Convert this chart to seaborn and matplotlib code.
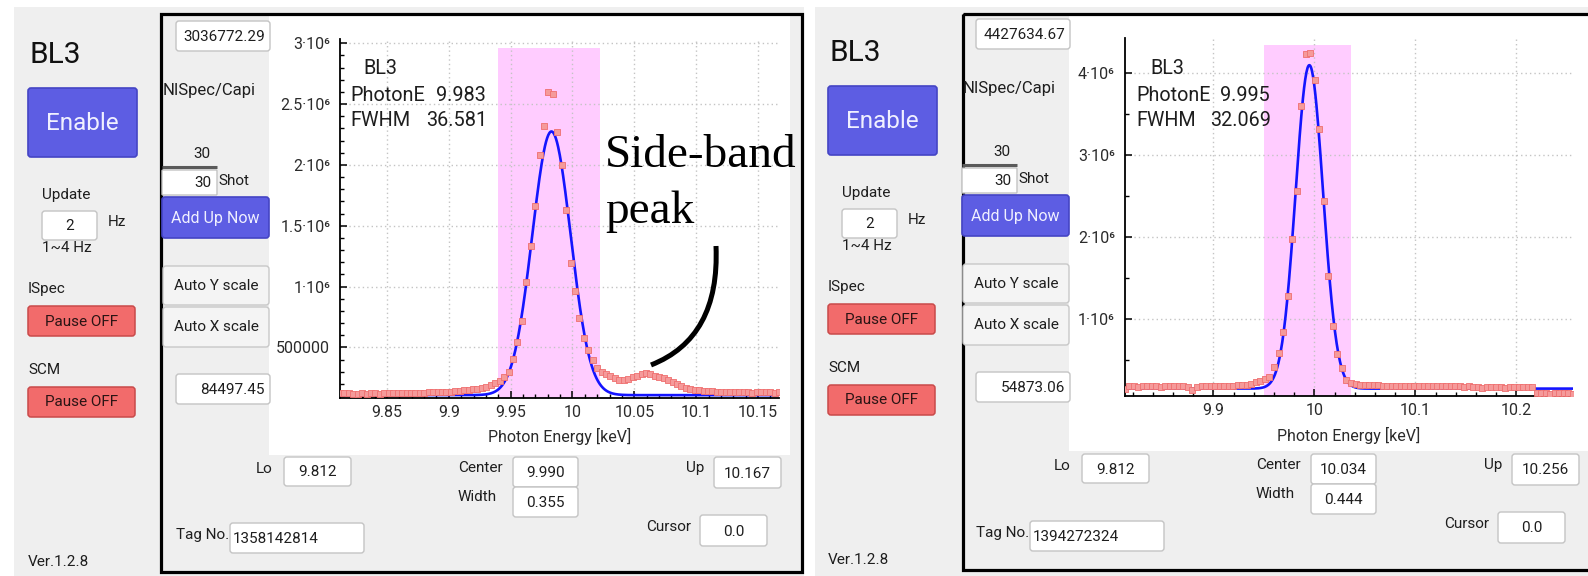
import numpy as np
import matplotlib
matplotlib.use("Agg")
import matplotlib.pyplot as plt
import seaborn as sns
from matplotlib.patches import FancyBboxPatch, Rectangle, PathPatch
from matplotlib.path import Path
from matplotlib.ticker import MultipleLocator, FuncFormatter

# ---------------- spectrum data (counts / 1000) ----------------
N_BINS = 100

# left panel
LO_1, UP_1 = 9.812, 10.167
CENTER_1, WIDTH_1 = 9.990, 0.355
Y_LO_1, Y_HI_1 = 84497.45, 3036772.29
PHOTON_E_1, FWHM_1 = 9.983, 36.581          # keV, eV
FIT_PEAK_1, FIT_BASE_1 = 2.275e6, 1.08e5
GATE_1 = (9.940, 10.022)
GATE_TOP_1 = 2.965e6
TAG_1 = "1358142814"
SPEC_1_K = [
    128, 122, 125, 119, 121, 124, 118, 122, 125, 121,
    123, 126, 122, 124, 127, 125, 128, 126, 129, 128,
    130, 131, 132, 133, 135, 137, 140, 143, 147, 151,
    155, 161, 168, 178, 190, 205, 225,
    254, 300, 404, 541, 719, 1034, 1330, 1664, 2080, 2321,
    2603, 2581, 2272, 1998, 1631,
    1198, 965, 740, 580, 475, 395, 335, 300, 285, 262,
    245, 236, 235, 242, 256, 268, 278, 287, 282, 265,
    256, 250, 232, 212, 196, 182, 170, 160, 152, 147,
    143, 140, 138, 137, 135, 134, 133,
    131, 133, 130, 132, 129, 131, 133, 130, 131, 129, 130,
]

# right panel
LO_2, UP_2 = 9.812, 10.256
CENTER_2, WIDTH_2 = 10.034, 0.444
Y_LO_2, Y_HI_2 = 54873.06, 4427634.67
PHOTON_E_2, FWHM_2 = 9.995, 32.069
FIT_PEAK_2, FIT_BASE_2 = 4.10e6, 1.50e5
GATE_2 = (9.950, 10.036)
GATE_TOP_2 = 4.343e6
TAG_2 = "1394272324"
SPEC_2_K = [
    140, 176, 181, 174, 178, 183, 177, 180, 175, 182,
    179, 176, 181, 178, 174, 138, 172, 179, 183, 177,
    180, 184, 181, 185, 186, 188, 192, 200, 212, 226,
    245, 265,
    294, 416, 580, 845, 1282, 1980, 2560, 3600, 4233, 4253,
    3918, 3322, 2437, 1527, 918, 567, 396, 253,
    222, 205, 197, 194, 192, 190, 188, 186, 185, 184,
    183, 182, 183, 181, 182, 180, 181, 179, 180, 178,
    179, 177, 178, 176, 177, 175, 176, 174, 172, 160,
    174, 175, 173, 171, 163, 172, 174, 171, 169, 172, 170,
    95, 92, 94, 90, 93, 91, 94, 92, 90,
]

W, H = 1588, 576

sns.set_style("ticks")
plt.rcParams["font.family"] = ["Roboto", "DejaVu Sans"]

fig = plt.figure(figsize=(W / 100, H / 100), dpi=100, facecolor="white")

# background layer in pixel units (origin top-left)
ui = fig.add_axes([0, 0, 1, 1], zorder=0)
ui.set_xlim(0, W)
ui.set_ylim(H, 0)
ui.axis("off")

TXT = "#1e1e1e"


def rbox(x0, y0, x1, y1, fc="white", ec="#c4c4c4", lw=1.0, r=3):
    ui.add_patch(FancyBboxPatch((x0, y0), x1 - x0, y1 - y0,
                                boxstyle=f"round,pad=0,rounding_size={r}",
                                fc=fc, ec=ec, lw=lw))


def txt(x, y, s, size=11, ha="left", color=TXT, **kw):
    ui.text(x, y, s, fontsize=size, ha=ha, va="center", color=color, **kw)


def field(x0, y0, x1, y1, s, align="center"):
    rbox(x0, y0, x1, y1)
    ym = (y0 + y1) / 2 + 1
    if align == "center":
        txt((x0 + x1) / 2, ym, s, ha="center")
    elif align == "right":
        txt(x1 - 5, ym, s, ha="right")
    else:
        txt(x0 + 3, ym, s, ha="left")


# grey window backgrounds
ui.add_patch(Rectangle((14, 7), 790, H - 7, fc="#efefef", ec="none"))
ui.add_patch(Rectangle((815, 7), W - 815, H - 7, fc="#efefef", ec="none"))
# white plot canvases
ui.add_patch(Rectangle((269, 15), 521, 440, fc="white", ec="none"))
ui.add_patch(Rectangle((1069, 15), W - 1069, 436, fc="white", ec="none"))
# black frames
ui.add_patch(Rectangle((161, 13.5), 641, 558.5, fc="none", ec="black", lw=2.3))
ui.add_patch(Rectangle((962.5, 13.5), 700, 556.5, fc="none", ec="black", lw=2.3))


def panel(ox, oy, bx, by, top_val, low_val, lo, center, width, up, tag):
    txt(29 + ox, 55 + oy, "BL3", size=21.5, color="#111111")
    rbox(28 + ox, 88 + oy, 137 + ox, 157 + oy, fc="#5d5de3", ec="#4444c4", lw=1.2)
    txt(82.5 + ox, 123 + oy, "Enable", size=17.5, ha="center", color="#f0f0ff")
    txt(42 + ox, 195 + oy, "Update")
    field(42 + ox, 211 + oy, 97 + ox, 240 + oy, "2")
    txt(108 + ox, 222 + oy, "Hz")
    txt(42 + ox, 248 + oy, "1~4 Hz")
    txt(28 + ox, 289 + oy, "ISpec")
    rbox(28 + ox, 306 + oy, 135 + ox, 336 + oy, fc="#f26b6b", ec="#c94a4a", lw=1.1)
    txt(81.5 + ox, 321.5 + oy, "Pause OFF", ha="center", color="#2a1414")
    txt(28 + ox, 370 + oy, "SCM")
    rbox(28 + ox, 387 + oy, 135 + ox, 417 + oy, fc="#f26b6b", ec="#c94a4a", lw=1.1)
    txt(81.5 + ox, 402.5 + oy, "Pause OFF", ha="center", color="#2a1414")
    txt(28 + ox, 562 + oy, "Ver.1.2.8")

    field(176 + ox, 21 + oy, 270 + ox, 51 + oy, top_val, align="right")
    txt(163 + ox, 90 + oy, "NISpec/Capi", size=12)
    txt(202 + ox, 154 + oy, "30", ha="center")
    ui.plot([162 + ox, 217 + ox], [167 + oy, 167 + oy], color="#5a5a5a", lw=2.2,
            solid_capstyle="butt")
    rbox(162 + ox, 170 + oy, 217 + ox, 195 + oy, r=1)
    txt(211 + ox, 183 + oy, "30", ha="right")
    txt(218 + ox, 181 + oy, "Shot")
    rbox(162 + ox, 197 + oy, 269 + ox, 238 + oy, fc="#5d5de3", ec="#4444c4", lw=1.2)
    txt(215.5 + ox, 218 + oy, "Add Up Now", size=11.5, ha="center", color="#f0f0ff")
    rbox(163 + ox, 266 + oy, 269 + ox, 305 + oy, fc="#f4f4f4", ec="#c8c8c8")
    txt(216 + ox, 286 + oy, "Auto Y scale", ha="center")
    rbox(163 + ox, 307 + oy, 269 + ox, 347 + oy, fc="#f4f4f4", ec="#c8c8c8")
    txt(216 + ox, 327 + oy, "Auto X scale", ha="center")
    field(176 + ox, 374 + oy, 270 + ox, 404 + oy, low_val, align="right")
    txt(176 + ox, 535 + oy, "Tag No.")
    field(230 + ox, 523 + oy, 364 + ox, 553 + oy, tag, align="left")

    txt(256 + bx, 469 + by, "Lo")
    field(284 + bx, 457 + by, 351 + bx, 486 + by, lo)
    txt(458 + bx, 468 + by, "Center")
    field(513 + bx, 457 + by, 578 + bx, 487 + by, center)
    txt(458 + bx, 497 + by, "Width")
    field(513 + bx, 487 + by, 578 + bx, 517 + by, width)
    txt(686 + bx, 468 + by, "Up")
    field(714 + bx, 457 + by, 781 + bx, 488 + by, up)
    txt(646 + bx, 527 + by, "Cursor")
    field(700 + bx, 515 + by, 767 + bx, 546 + by, "0.0")


panel(0, 0, 0, 0, f"{Y_HI_1:.2f}", f"{Y_LO_1:.2f}", f"{LO_1:.3f}",
      f"{CENTER_1:.3f}", f"{WIDTH_1:.3f}", f"{UP_1:.3f}", TAG_1)
panel(800, -2, 798, -3, f"{Y_HI_2:.2f}", f"{Y_LO_2:.2f}", f"{LO_2:.3f}",
      f"{CENTER_2:.3f}", f"{WIDTH_2:.3f}", f"{UP_2:.3f}", TAG_2)


def ax_at(x0, y0, x1, y1):
    return fig.add_axes([x0 / W, 1 - y1 / H, (x1 - x0) / W, (y1 - y0) / H], zorder=1)


def sci(v, pos):
    if v >= 1e6:
        return f"{v / 1e6:g}\u00b710\u2076"
    return f"{v:.0f}"


def spectrum(ax, lo, up, ylo, yhi, spec_k, e0, fwhm_ev, peak, base, gate, gate_top,
             xmaj, xmin, ymaj, ymin):
    ax.set_facecolor("none")
    energy = np.linspace(lo, up, N_BINS)
    counts = np.asarray(spec_k, dtype=float) * 1000.0
    ax.add_patch(Rectangle((gate[0], ylo), gate[1] - gate[0], gate_top - ylo,
                           fc="#ffccff", ec="none", zorder=0.3))
    xf = np.linspace(lo, up, 800)
    fw = fwhm_ev / 1000.0
    yf = base + (peak - base) * np.exp(-4 * np.log(2) * (xf - e0) ** 2 / fw ** 2)
    sns.lineplot(x=xf, y=yf, ax=ax, color="#1414ff", linewidth=1.9, zorder=3)
    sns.scatterplot(x=energy, y=counts, ax=ax, marker="s", s=17, color="#f59a9a",
                    edgecolor="#ef6f6f", linewidth=0.6, zorder=4, legend=False)
    ax.set_xlim(lo, up)
    ax.set_ylim(ylo, yhi)
    ax.xaxis.set_major_locator(MultipleLocator(xmaj))
    ax.xaxis.set_minor_locator(MultipleLocator(xmin))
    ax.yaxis.set_major_locator(MultipleLocator(ymaj))
    ax.yaxis.set_minor_locator(MultipleLocator(ymin))
    ax.xaxis.set_major_formatter(FuncFormatter(lambda v, p: f"{v:g}"))
    ax.yaxis.set_major_formatter(FuncFormatter(sci))
    ax.grid(True, which="major", color="#c4c4c4", linestyle=(0, (1, 2.2)), linewidth=1.0)
    ax.set_axisbelow(True)
    for s in ("top", "right"):
        ax.spines[s].set_visible(False)
    for s in ("left", "bottom"):
        ax.spines[s].set_color("black")
        ax.spines[s].set_linewidth(1.3)
    ax.tick_params(which="major", direction="in", length=5, width=1.1, color="black",
                   labelsize=11.5, labelcolor="#2b2b2b")
    ax.tick_params(which="minor", direction="in", length=2.6, width=1.0, color="black")
    ax.tick_params(axis="y", which="major", pad=7)
    ax.tick_params(axis="x", which="major", pad=5)
    ax.set_xlabel("Photon Energy [keV]", fontsize=11.5, color="#2b2b2b", labelpad=6)
    ax.set_ylabel("")


ax1 = ax_at(340, 38.8, 779, 398)
spectrum(ax1, LO_1, UP_1, Y_LO_1, Y_HI_1, SPEC_1_K, PHOTON_E_1, FWHM_1,
         FIT_PEAK_1, FIT_BASE_1, GATE_1, GATE_TOP_1, 0.05, 0.01, 5e5, 1e5)

ax2 = ax_at(1124.5, 38.3, 1573, 396.4)
spectrum(ax2, LO_2, UP_2, Y_LO_2, Y_HI_2, SPEC_2_K, PHOTON_E_2, FWHM_2,
         FIT_PEAK_2, FIT_BASE_2, GATE_2, GATE_TOP_2, 0.1, 0.02, 1e6, 5e5)

# overlay layer for in-plot labels and the annotation
ov = fig.add_axes([0, 0, 1, 1], zorder=5)
ov.set_xlim(0, W)
ov.set_ylim(H, 0)
ov.axis("off")
ov.patch.set_alpha(0)


def otext(x, y, s, size=14.3, ha="left", **kw):
    ov.text(x, y, s, fontsize=size, ha=ha, va="center", color="#1e1e1e", **kw)


otext(363, 69, "BL3")
otext(350, 95.5, "PhotonE")
otext(486, 95.5, f"{PHOTON_E_1:.3f}", ha="right")
otext(350, 121, "FWHM")
otext(487, 121, f"{FWHM_1:.3f}", ha="right")

otext(1150, 68.6, "BL3", size=14.2)
otext(1136, 95.4, "PhotonE", size=14.2)
otext(1270, 95.4, f"{PHOTON_E_2:.3f}", size=14.2, ha="right")
otext(1136, 120.4, "FWHM", size=14.2)
otext(1271, 120.4, f"{FWHM_2:.3f}", size=14.2, ha="right")

ov.text(605, 167, "Side-band", fontsize=34, family="Liberation Serif",
        ha="left", va="baseline", color="black")
ov.text(605, 223, "peak", fontsize=34, family="Liberation Serif",
        ha="left", va="baseline", color="black")
arc = Path([(716, 246), (720, 338), (651, 365)], [Path.MOVETO, Path.CURVE3, Path.CURVE3])
ov.add_patch(PathPatch(arc, fc="none", ec="black", lw=3.6, capstyle="butt"))

fig.savefig("out.png", dpi=100, facecolor="white")
